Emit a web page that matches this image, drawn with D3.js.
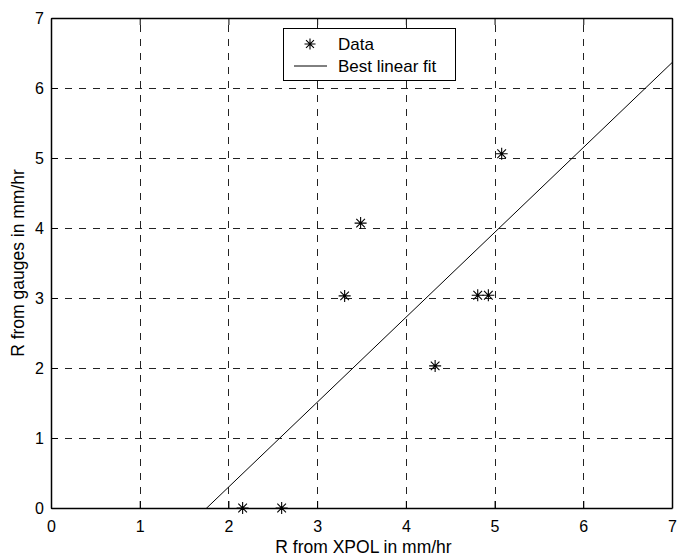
<!DOCTYPE html>
<html>
<head>
<meta charset="utf-8">
<script src="https://cdn.jsdelivr.net/npm/d3@7"></script>
<style>
  body { margin: 0; background: #fff; }
  svg { display: block; font-family: "Liberation Sans", Arial, sans-serif; }
</style>
</head>
<body>
<div id="chart"></div>
<script>
// scatter points
var xpol = [2.16, 2.60, 3.31, 3.49, 4.33, 4.81, 4.93, 5.08];
var gauges = [0, 0, 3.03, 4.07, 2.03, 3.04, 3.04, 5.06];
// best linear fit y = slope*x + intercept
var fitSlope = [1.213];
var fitIntercept = [-2.129];
var xTicks = [0, 1, 2, 3, 4, 5, 6, 7];
var yTicks = [0, 1, 2, 3, 4, 5, 6, 7];
var legendLabels = ["Data", "Best linear fit"];

var width = 682, height = 559;
var margin = { left: 51, right: 10, top: 18, bottom: 51 };

var svg = d3.select("#chart").append("svg")
  .attr("width", width)
  .attr("height", height);

var x = d3.scaleLinear().domain([0, 7]).range([margin.left, width - margin.right]);
var y = d3.scaleLinear().domain([0, 7]).range([height - margin.bottom, margin.top]);

var defs = svg.append("defs");
defs.append("clipPath").attr("id", "clip")
  .append("rect")
  .attr("x", x(0)).attr("y", y(7))
  .attr("width", x(7) - x(0)).attr("height", y(0) - y(7));

// grid
var grid = svg.append("g").attr("stroke", "#222").attr("stroke-width", 1).attr("stroke-dasharray", "7,7");
grid.selectAll(".gx").data(xTicks.slice(1, -1)).enter().append("line")
  .attr("x1", function(d) { return Math.round(x(d)) + 0.5; })
  .attr("x2", function(d) { return Math.round(x(d)) + 0.5; })
  .attr("y1", y(0)).attr("y2", y(7));
grid.selectAll(".gy").data(yTicks.slice(1, -1)).enter().append("line")
  .attr("y1", function(d) { return Math.round(y(d)) + 0.5; })
  .attr("y2", function(d) { return Math.round(y(d)) + 0.5; })
  .attr("x1", x(0)).attr("x2", x(7));

// axes with inner ticks
var tickLen = 7;
var axB = svg.append("g").attr("transform", "translate(0," + y(0) + ")")
  .call(d3.axisBottom(x).tickValues(xTicks).tickFormat(d3.format("d")).tickSizeInner(-tickLen).tickSizeOuter(0).tickPadding(13));
var axL = svg.append("g").attr("transform", "translate(" + x(0) + ",0)")
  .call(d3.axisLeft(y).tickValues(yTicks).tickFormat(d3.format("d")).tickSizeInner(-tickLen).tickSizeOuter(0).tickPadding(7));
var axT = svg.append("g").attr("transform", "translate(0," + y(7) + ")")
  .call(d3.axisTop(x).tickValues(xTicks).tickSizeInner(-tickLen).tickSizeOuter(0).tickFormat(""));
var axR = svg.append("g").attr("transform", "translate(" + x(7) + ",0)")
  .call(d3.axisRight(y).tickValues(yTicks).tickSizeInner(-tickLen).tickSizeOuter(0).tickFormat(""));

[axB, axL, axT, axR].forEach(function(a) {
  a.selectAll(".domain").attr("stroke", "#000").attr("stroke-width", 1.5);
  a.selectAll(".tick line").attr("stroke", "#000");
  a.selectAll("text").attr("font-size", 16).attr("fill", "#000")
    .attr("font-family", "'Liberation Sans', Arial, sans-serif");
});

// fit line
var plot = svg.append("g").attr("clip-path", "url(#clip)");
plot.append("line")
  .attr("x1", x(0)).attr("y1", y(fitSlope[0] * 0 + fitIntercept[0]))
  .attr("x2", x(7)).attr("y2", y(fitSlope[0] * 7 + fitIntercept[0]))
  .attr("stroke", "#000").attr("stroke-width", 1);

// star marker (plus and cross)
function star(g, cx, cy, r) {
  var d = r * 0.72;
  g.append("path")
    .attr("d", "M" + (cx - r) + "," + cy + "H" + (cx + r) +
      "M" + cx + "," + (cy - r) + "V" + (cy + r) +
      "M" + (cx - d) + "," + (cy - d) + "L" + (cx + d) + "," + (cy + d) +
      "M" + (cx - d) + "," + (cy + d) + "L" + (cx + d) + "," + (cy - d))
    .attr("stroke", "#000").attr("stroke-width", 1.1).attr("fill", "none");
}
var pts = svg.append("g");
xpol.forEach(function(v, i) { star(pts, x(v), y(gauges[i]), 6); });

// legend
var lg = svg.append("g");
lg.append("rect").attr("x", 283.5).attr("y", 28.5).attr("width", 172).attr("height", 52)
  .attr("fill", "#fff").attr("stroke", "#000").attr("stroke-width", 1);
star(lg, 310, 44, 5.5);
lg.append("line").attr("x1", 294).attr("x2", 327).attr("y1", 66).attr("y2", 66)
  .attr("stroke", "#000").attr("stroke-width", 1);
lg.selectAll("text").data(legendLabels).enter().append("text")
  .attr("x", 338).attr("y", function(d, i) { return 50 + i * 22; })
  .attr("font-size", 17).text(function(d) { return d; });

// axis titles
svg.append("text")
  .attr("x", (x(0) + x(7)) / 2 + 2).attr("y", 553)
  .attr("text-anchor", "middle").attr("font-size", 17.5)
  .text("R from XPOL in mm/hr");
svg.append("text")
  .attr("transform", "translate(23.5," + (y(3.5)) + ") rotate(-90)")
  .attr("text-anchor", "middle").attr("font-size", 17.5)
  .text("R from gauges in mm/hr");
</script>
</body>
</html>
